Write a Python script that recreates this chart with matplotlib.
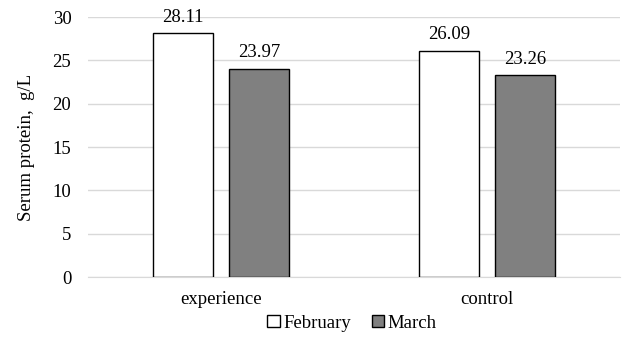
import matplotlib
matplotlib.use("Agg")
import matplotlib.pyplot as plt
import numpy as np

categories = ["experience", "control"]
series_names = ["February", "March"]
february = [28.11, 26.09]
march = [23.97, 23.26]
yticks = [0, 5, 10, 15, 20, 25, 30]

plt.rcParams['font.family'] = ['Liberation Serif', 'DejaVu Serif']
FS = 13.5

fig = plt.figure(figsize=(6.37, 3.48), dpi=100)
ax = fig.add_axes([88/637, 1-277/348, 532/637, 260/348])

x = np.arange(len(categories))
w = 0.226
off = 0.143
b1 = ax.bar(x - off, february, w, color="white", edgecolor="black", linewidth=1.0, label=series_names[0], zorder=3)
b2 = ax.bar(x + off, march, w, color="#808080", edgecolor="black", linewidth=1.0, label=series_names[1], zorder=3)
for bars, vals in ((b1, february), (b2, march)):
    for r, v in zip(bars, vals):
        ax.text(r.get_x() + r.get_width()/2, v + 0.9, f"{v:.2f}", ha="center", va="bottom", fontsize=FS, zorder=4)

ax.set_xlim(-0.5, 1.5)
ax.set_ylim(0, 30)
ax.set_yticks(yticks)
ax.set_yticklabels([str(t) for t in yticks], fontsize=FS)
ax.set_xticks(x)
ax.set_xticklabels(categories, fontsize=FS)
ax.tick_params(axis="y", length=0, pad=12)
ax.tick_params(axis="x", length=0, pad=10)
ax.grid(axis="y", color="#d9d9d9", linewidth=1.0, zorder=0)
for s in ["top", "right", "left"]:
    ax.spines[s].set_visible(False)
ax.spines["bottom"].set_color("#d9d9d9")
ax.set_ylabel("Serum protein,  g/L", fontsize=FS)
ax.yaxis.set_label_coords(-0.100, 0.5)

fig.legend(handles=[b1, b2], labels=series_names, loc="center", bbox_to_anchor=(352/637, 1-323/348),
           ncol=2, frameon=False, fontsize=FS, handlelength=0.65, handleheight=0.65,
           handletextpad=0.2, columnspacing=1.1)

fig.savefig("out.png", dpi=100)
